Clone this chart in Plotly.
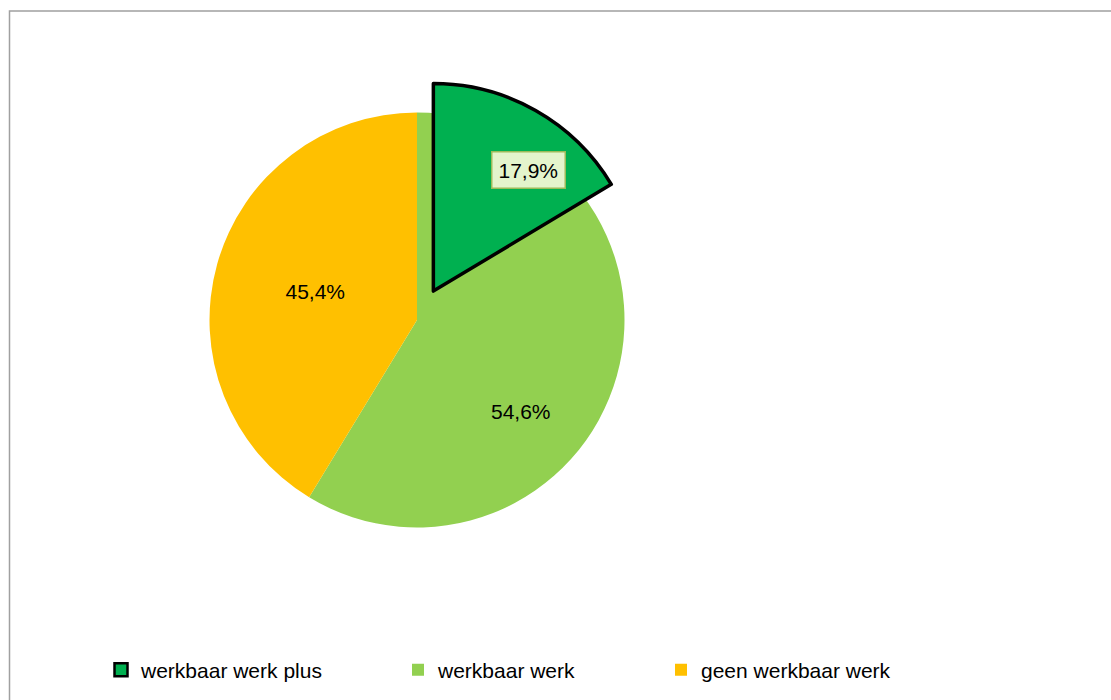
import plotly.graph_objects as go

# ---- data ----
categories = ["werkbaar werk plus", "werkbaar werk", "geen werkbaar werk"]
label_pct = [17.9, 54.6, 45.4]            # printed data labels (%)
# slice sizes as drawn in the picture
drawn_main = [58.7, 41.3]                 # werkbaar werk, geen werkbaar werk
drawn_plus = [16.4, 83.6]                 # werkbaar werk plus, (transparent rest)

colors = {"werkbaar werk plus": "#00B050", "werkbaar werk": "#92D050", "geen werkbaar werk": "#FFC000"}


def fmt(v):
    return f"{v:.1f}".replace(".", ",") + "%"


W, H = 1111, 700
cx, cy, R = 417, 320, 207.5
pull = 0.16

FONT = "Liberation Sans"
LBL = 21

fig = go.Figure()

# main pie (the 'werkbaar werk' label is placed as an annotation like Excel's best-fit)
fig.add_trace(go.Pie(
    labels=categories[1:], values=drawn_main,
    text=["", fmt(label_pct[2])], textinfo="text",
    textposition="inside", insidetextorientation="horizontal",
    textfont=dict(family=FONT, size=LBL, color="#000000"),
    marker=dict(colors=[colors[c] for c in categories[1:]], line=dict(width=0)),
    sort=False, direction="clockwise", rotation=0, showlegend=False,
    domain=dict(x=[(cx - R) / W, (cx + R) / W], y=[1 - (cy + R) / H, 1 - (cy - R) / H]),
    hoverinfo="label",
))

# exploded 'werkbaar werk plus' slice, drawn on top
Rp = R * (1 + pull)
fig.add_trace(go.Pie(
    labels=[categories[0], "rest"], values=drawn_plus,
    textinfo="none", pull=[pull, 0],
    marker=dict(colors=[colors[categories[0]], "rgba(0,0,0,0)"],
                line=dict(color=["#000000", "rgba(0,0,0,0)"], width=[3.5, 0])),
    sort=False, direction="clockwise", rotation=0, showlegend=False,
    domain=dict(x=[(cx - Rp) / W, (cx + Rp) / W], y=[1 - (cy + Rp) / H, 1 - (cy - Rp) / H]),
    hoverinfo="skip",
))

# data labels
fig.add_annotation(
    x=528 / W, y=1 - 170 / H, xref="paper", yref="paper", xanchor="center", yanchor="middle",
    text=fmt(label_pct[0]), showarrow=False,
    font=dict(family=FONT, size=LBL, color="#000000"),
    bgcolor="#E4F4CC", bordercolor="#9BBB59", borderwidth=1.5, borderpad=6,
)
fig.add_annotation(
    x=521 / W, y=1 - 412 / H, xref="paper", yref="paper", xanchor="center", yanchor="middle",
    text=fmt(label_pct[1]), showarrow=False,
    font=dict(family=FONT, size=LBL, color="#000000"),
)

# legend entries (three separately placed legends)
legend_names = ["legend", "legend2", "legend3"]
for i, c in enumerate(categories):
    fig.add_trace(go.Scatter(
        x=[None], y=[None], mode="markers", name=c, legend=legend_names[i],
        marker=dict(symbol="square", size=13 if i == 0 else 12, color=colors[c],
                    line=dict(color="#000000" if i == 0 else colors[c], width=2.5 if i == 0 else 0)),
    ))

leg_x = [101, 398, 661]
leg_common = dict(orientation="h", yanchor="middle", y=1 - 670 / H, xanchor="left",
                  font=dict(family=FONT, size=21, color="#000000"),
                  bgcolor="rgba(0,0,0,0)", itemwidth=30)
fig.update_layout(
    legend=dict(x=leg_x[0] / W, **leg_common),
    legend2=dict(x=leg_x[1] / W, **leg_common),
    legend3=dict(x=leg_x[2] / W, **leg_common),
)

# chart-area border (grey)
fig.add_shape(type="rect", xref="paper", yref="paper",
              x0=9.5 / W, x1=1.02, y0=-0.02, y1=1 - 11 / H,
              line=dict(color="#A0A0A0", width=1.5), fillcolor="rgba(0,0,0,0)")

fig.update_layout(
    width=W, height=H, margin=dict(l=0, r=0, t=0, b=0),
    paper_bgcolor="#FFFFFF", plot_bgcolor="#FFFFFF",
    xaxis=dict(visible=False), yaxis=dict(visible=False),
    font=dict(family=FONT),
)

fig.write_html("out.html", config={"displayModeBar": False},
               post_script="document.body.style.margin='0';document.body.style.overflow='hidden';")
